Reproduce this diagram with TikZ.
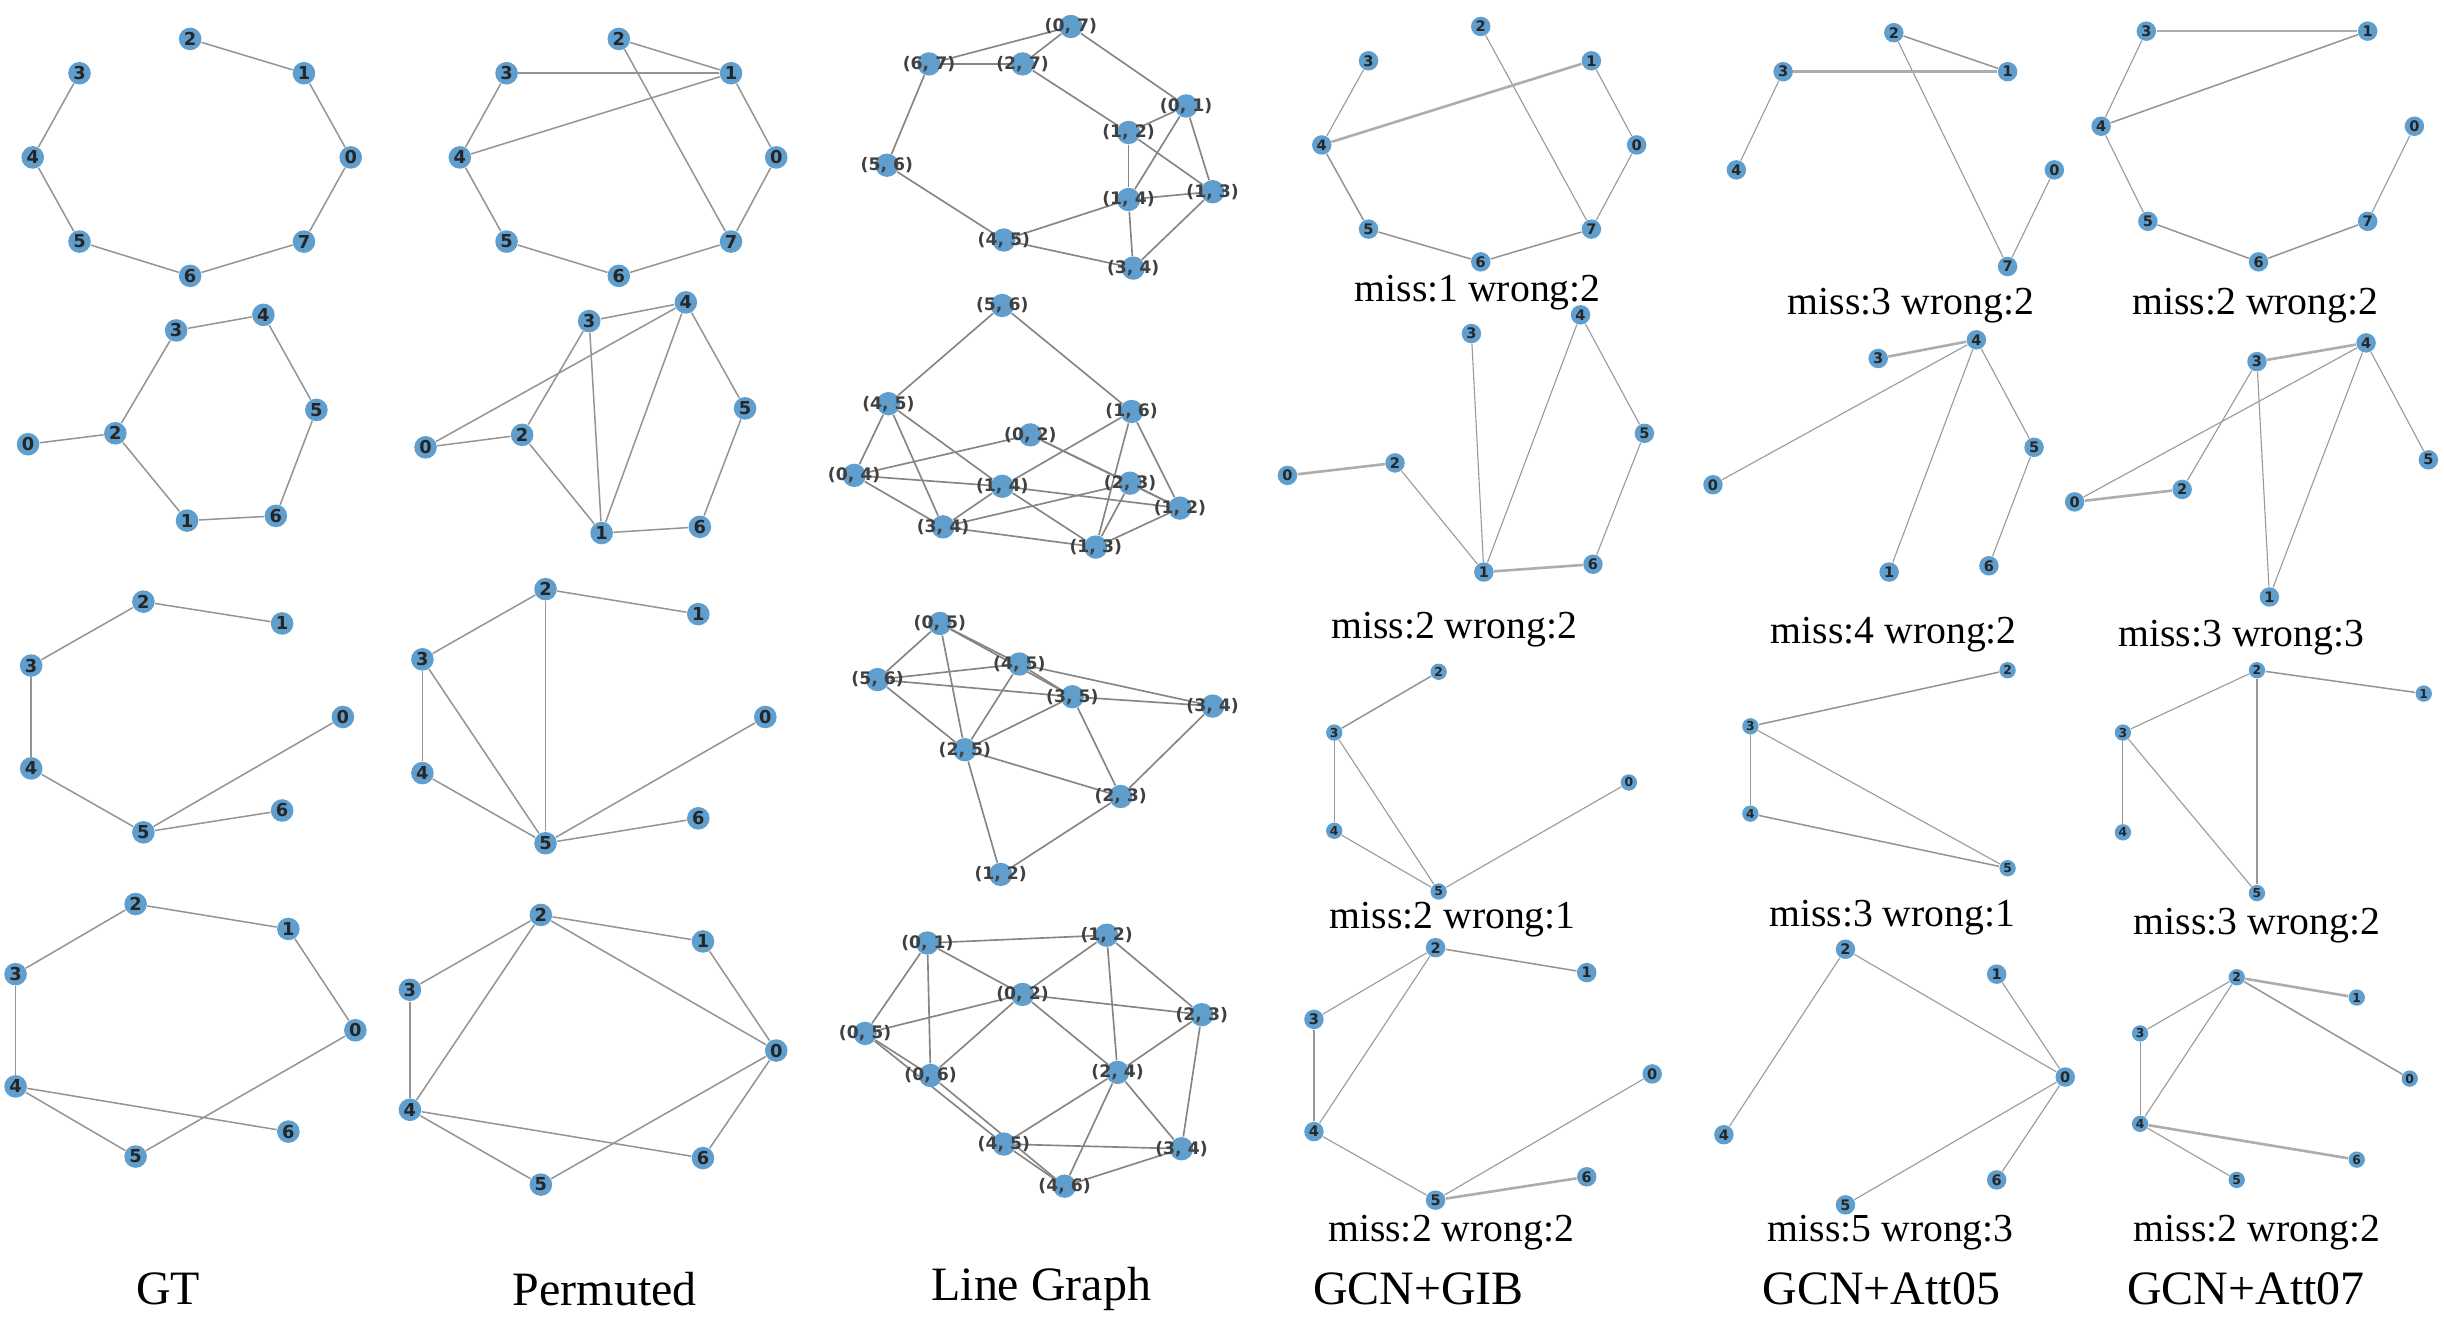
\documentclass[tikz,border=0pt]{standalone}
\usepackage{fontspec}
\setmainfont{Liberation Serif}
\newfontfamily\lblfont{DejaVu Sans}
\pgfdeclarelayer{bg}
\pgfsetlayers{bg,main}
\definecolor{nb}{RGB}{95,158,205}
\tikzset{
 gA/.style={circle, fill=nb, inner sep=0pt, minimum size=0.29cm, font=\lblfont\bfseries\fontsize{6.5}{6.5}\selectfont, text=black!85},
 gB/.style={gA, minimum size=0.25cm, font=\lblfont\bfseries\fontsize{5.3}{5.3}\selectfont},
 gC/.style={gA, minimum size=0.21cm, font=\lblfont\bfseries\fontsize{4.5}{4.5}\selectfont},
 lg/.style={circle, fill=nb, inner sep=0pt, minimum size=0.3cm},
 lgt/.style={inner sep=0pt, font=\lblfont\bfseries\fontsize{6.3}{6.3}\selectfont, text=black!75},
 ed/.style={draw=black!42, line width=0.55pt},
 lge/.style={draw=black!48, line width=0.6pt},
 et/.style={draw=black!40, line width=0.4pt},
 ek/.style={draw=black!32, line width=0.95pt},
 ttl/.style={font=\fontsize{17.5}{19}\selectfont, inner sep=0pt},
 mss/.style={font=\fontsize{14.5}{16}\selectfont, inner sep=0pt},
}
\begin{document}
\begin{tikzpicture}[x=0.02cm, y=-0.02cm]
\useasboundingbox (0,0) rectangle (1568,847);
\begin{pgfonlayer}{bg}
\fill[white] (0,0) rectangle (1568,847);
\end{pgfonlayer}

% ================= ROW 1 =================
% GT
\node[gA] (a1n0) at (225,101) {0};
\node[gA] (a1n1) at (195,47) {1};
\node[gA] (a1n2) at (122,25) {2};
\node[gA] (a1n3) at (51,47) {3};
\node[gA] (a1n4) at (21,101) {4};
\node[gA] (a1n5) at (51,155) {5};
\node[gA] (a1n6) at (122,177) {6};
\node[gA] (a1n7) at (195,155) {7};
% Permuted
\node[gA] (b1n0) at (498,101) {0};
\node[gA] (b1n1) at (469,47) {1};
\node[gA] (b1n2) at (397,25) {2};
\node[gA] (b1n3) at (325,47) {3};
\node[gA] (b1n4) at (295,101) {4};
\node[gA] (b1n5) at (325,155) {5};
\node[gA] (b1n6) at (397,177) {6};
\node[gA] (b1n7) at (469,155) {7};
% Line graph
\node[lg, label={[lgt]center:{(0, 7)}}] (c1n07) at (687,17) {};
\node[lg, label={[lgt]center:{(6, 7)}}] (c1n67) at (596,41) {};
\node[lg, label={[lgt]center:{(2, 7)}}] (c1n27) at (656,41) {};
\node[lg, label={[lgt]center:{(0, 1)}}] (c1n01) at (761,68) {};
\node[lg, label={[lgt]center:{(1, 2)}}] (c1n12) at (724,85) {};
\node[lg, label={[lgt]center:{(5, 6)}}] (c1n56) at (569,106) {};
\node[lg, label={[lgt]center:{(1, 4)}}] (c1n14) at (724,128) {};
\node[lg, label={[lgt]center:{(1, 3)}}] (c1n13) at (778,123) {};
\node[lg, label={[lgt]center:{(4, 5)}}] (c1n45) at (644,154) {};
\node[lg, label={[lgt]center:{(3, 4)}}] (c1n34) at (727,172) {};
% GIB
\node[gB] (d1n0) at (1050,93) {0};
\node[gB] (d1n1) at (1021,39) {1};
\node[gB] (d1n2) at (950,17) {2};
\node[gB] (d1n3) at (878,39) {3};
\node[gB] (d1n4) at (848,93) {4};
\node[gB] (d1n5) at (878,147) {5};
\node[gB] (d1n6) at (950,168) {6};
\node[gB] (d1n7) at (1021,147) {7};
\node[mss] (d1l) at (948,188) {miss:1 wrong:2};
% Att05
\node[gB] (e1n2) at (1215,21) {2};
\node[gB] (e1n1) at (1288,46) {1};
\node[gB] (e1n3) at (1144,46) {3};
\node[gB] (e1n4) at (1114,109) {4};
\node[gB] (e1n0) at (1318,109) {0};
\node[gB] (e1n7) at (1288,171) {7};
\node[mss] (e1l) at (1226,196) {miss:3 wrong:2};
% Att07
\node[gB] (f1n3) at (1377,20) {3};
\node[gB] (f1n1) at (1519,20) {1};
\node[gB] (f1n4) at (1348,81) {4};
\node[gB] (f1n0) at (1549,81) {0};
\node[gB] (f1n5) at (1378,142) {5};
\node[gB] (f1n7) at (1519,142) {7};
\node[gB] (f1n6) at (1449,168) {6};
\node[mss] (f1l) at (1447,196) {miss:2 wrong:2};

% ================= ROW 2 =================
\node[gA] (a2n3) at (113,212) {3};
\node[gA] (a2n4) at (169,202) {4};
\node[gA] (a2n0) at (18,285) {0};
\node[gA] (a2n2) at (74,278) {2};
\node[gA] (a2n5) at (203,263) {5};
\node[gA] (a2n1) at (120,334) {1};
\node[gA] (a2n6) at (177,331) {6};
\node[gA] (b2n4) at (440,194) {4};
\node[gA] (b2n3) at (378,206) {3};
\node[gA] (b2n0) at (273,287) {0};
\node[gA] (b2n2) at (335,279) {2};
\node[gA] (b2n5) at (478,262) {5};
\node[gA] (b2n1) at (386,342) {1};
\node[gA] (b2n6) at (449,338) {6};
\node[lg, label={[lgt]center:{(5, 6)}}] (c2n56) at (643,196) {};
\node[lg, label={[lgt]center:{(4, 5)}}] (c2n45) at (570,259) {};
\node[lg, label={[lgt]center:{(1, 6)}}] (c2n16) at (726,264) {};
\node[lg, label={[lgt]center:{(0, 2)}}] (c2n02) at (661,279) {};
\node[lg, label={[lgt]center:{(0, 4)}}] (c2n04) at (548,305) {};
\node[lg, label={[lgt]center:{(1, 4)}}] (c2n14) at (643,312) {};
\node[lg, label={[lgt]center:{(2, 3)}}] (c2n23) at (725,310) {};
\node[lg, label={[lgt]center:{(1, 2)}}] (c2n12) at (757,326) {};
\node[lg, label={[lgt]center:{(3, 4)}}] (c2n34) at (605,338) {};
\node[lg, label={[lgt]center:{(1, 3)}}] (c2n13) at (703,351) {};
\node[gB] (d2n3) at (944,214) {3};
\node[gB] (d2n4) at (1014,202) {4};
\node[gB] (d2n0) at (826,305) {0};
\node[gB] (d2n2) at (895,297) {2};
\node[gB] (d2n5) at (1055,278) {5};
\node[gB] (d2n1) at (952,367) {1};
\node[gB] (d2n6) at (1022,362) {6};
\node[mss] (d2l) at (933,404) {miss:2 wrong:2};
\node[gB] (e2n3) at (1205,230) {3};
\node[gB] (e2n4) at (1268,218) {4};
\node[gB] (e2n0) at (1099,311) {0};
\node[gB] (e2n5) at (1305,287) {5};
\node[gB] (e2n1) at (1212,367) {1};
\node[gB] (e2n6) at (1276,363) {6};
\node[mss] (e2l) at (1215,407) {miss:4 wrong:2};
\node[gB] (f2n3) at (1448,232) {3};
\node[gB] (f2n4) at (1518,220) {4};
\node[gB] (f2n0) at (1331,322) {0};
\node[gB] (f2n2) at (1400,314) {2};
\node[gB] (f2n5) at (1558,295) {5};
\node[gB] (f2n1) at (1456,383) {1};
\node[mss] (f2l) at (1438,409) {miss:3 wrong:3};

% ================= ROW 3 =================
\node[gA] (a3n2) at (92,386) {2};
\node[gA] (a3n1) at (181,400) {1};
\node[gA] (a3n3) at (20,427) {3};
\node[gA] (a3n0) at (220,460) {0};
\node[gA] (a3n4) at (20,493) {4};
\node[gA] (a3n6) at (181,520) {6};
\node[gA] (a3n5) at (92,534) {5};
\node[gA] (b3n2) at (350,378) {2};
\node[gA] (b3n1) at (448,394) {1};
\node[gA] (b3n3) at (271,423) {3};
\node[gA] (b3n0) at (491,460) {0};
\node[gA] (b3n4) at (271,496) {4};
\node[gA] (b3n6) at (448,525) {6};
\node[gA] (b3n5) at (350,541) {5};
\node[lg, label={[lgt]center:{(0, 5)}}] (c3n05) at (603,400) {};
\node[lg, label={[lgt]center:{(4, 5)}}] (c3n45) at (654,426) {};
\node[lg, label={[lgt]center:{(5, 6)}}] (c3n56) at (563,436) {};
\node[lg, label={[lgt]center:{(3, 5)}}] (c3n35) at (688,447) {};
\node[lg, label={[lgt]center:{(3, 4)}}] (c3n34) at (778,453) {};
\node[lg, label={[lgt]center:{(2, 5)}}] (c3n25) at (619,481) {};
\node[lg, label={[lgt]center:{(2, 3)}}] (c3n23) at (719,511) {};
\node[lg, label={[lgt]center:{(1, 2)}}] (c3n12) at (642,561) {};
\node[gC] (d3n2) at (923,431) {2};
\node[gC] (d3n3) at (856,470) {3};
\node[gC] (d3n0) at (1045,502) {0};
\node[gC] (d3n4) at (856,533) {4};
\node[gC] (d3n5) at (923,572) {5};
\node[mss] (d3l) at (932,590) {miss:2 wrong:1};
\node[gC] (e3n2) at (1288,430) {2};
\node[gC] (e3n3) at (1123,466) {3};
\node[gC] (e3n4) at (1123,522) {4};
\node[gC] (e3n5) at (1288,557) {5};
\node[mss] (e3l) at (1214,589) {miss:3 wrong:1};
\node[gC] (f3n2) at (1448,430) {2};
\node[gC] (f3n1) at (1555,445) {1};
\node[gC] (f3n3) at (1362,470) {3};
\node[gC] (f3n4) at (1362,534) {4};
\node[gC] (f3n5) at (1448,573) {5};
\node[mss] (f3l) at (1448,594) {miss:3 wrong:2};

% ================= ROW 4 =================
\node[gA] (a4n2) at (87,580) {2};
\node[gA] (a4n1) at (185,596) {1};
\node[gA] (a4n3) at (10,625) {3};
\node[gA] (a4n0) at (228,661) {0};
\node[gA] (a4n4) at (10,697) {4};
\node[gA] (a4n6) at (185,726) {6};
\node[gA] (a4n5) at (87,742) {5};
\node[gA] (b4n2) at (347,587) {2};
\node[gA] (b4n1) at (451,604) {1};
\node[gA] (b4n3) at (263,635) {3};
\node[gA] (b4n0) at (498,674) {0};
\node[gA] (b4n4) at (263,712) {4};
\node[gA] (b4n6) at (451,743) {6};
\node[gA] (b4n5) at (347,760) {5};
\node[lg, label={[lgt]center:{(0, 1)}}] (c4n01) at (595,605) {};
\node[lg, label={[lgt]center:{(1, 2)}}] (c4n12) at (710,600) {};
\node[lg, label={[lgt]center:{(0, 2)}}] (c4n02) at (656,638) {};
\node[lg, label={[lgt]center:{(2, 3)}}] (c4n23) at (771,651) {};
\node[lg, label={[lgt]center:{(0, 5)}}] (c4n05) at (555,663) {};
\node[lg, label={[lgt]center:{(0, 6)}}] (c4n06) at (597,690) {};
\node[lg, label={[lgt]center:{(2, 4)}}] (c4n24) at (717,688) {};
\node[lg, label={[lgt]center:{(4, 5)}}] (c4n45) at (644,734) {};
\node[lg, label={[lgt]center:{(3, 4)}}] (c4n34) at (758,737) {};
\node[lg, label={[lgt]center:{(4, 6)}}] (c4n46) at (683,761) {};
\node[gB] (d4n2) at (921,608) {2};
\node[gB] (d4n1) at (1018,624) {1};
\node[gB] (d4n3) at (843,654) {3};
\node[gB] (d4n0) at (1060,689) {0};
\node[gB] (d4n4) at (843,726) {4};
\node[gB] (d4n6) at (1018,755) {6};
\node[gB] (d4n5) at (921,770) {5};
\node[mss] (d4l) at (931,791) {miss:2 wrong:2};
\node[gB] (e4n2) at (1184,609) {2};
\node[gB] (e4n1) at (1281,625) {1};
\node[gB] (e4n0) at (1325,691) {0};
\node[gB] (e4n4) at (1106,728) {4};
\node[gB] (e4n6) at (1281,757) {6};
\node[gB] (e4n5) at (1184,773) {5};
\node[mss] (e4l) at (1213,791) {miss:5 wrong:3};
\node[gC] (f4n2) at (1435,627) {2};
\node[gC] (f4n1) at (1512,640) {1};
\node[gC] (f4n3) at (1373,663) {3};
\node[gC] (f4n0) at (1546,692) {0};
\node[gC] (f4n4) at (1373,721) {4};
\node[gC] (f4n6) at (1512,744) {6};
\node[gC] (f4n5) at (1435,757) {5};
\node[mss] (f4l) at (1448,791) {miss:2 wrong:2};

% ================= TITLES =================
\node[ttl] (t1) at (108,827) {GT};
\node[ttl] (t2) at (388,827) {Permuted};
\node[ttl] (t3) at (668,827) {Line Graph};
\node[ttl] (t4) at (910,827) {GCN+GIB};
\node[ttl] (t5) at (1207,827) {GCN+Att05};
\node[ttl] (t6) at (1441,827) {GCN+Att07};

% ================= EDGES =================
\begin{pgfonlayer}{bg}
% row 1
\foreach \u/\v in {2/1,1/0,0/7,7/6,6/5,5/4,4/3} \draw[ed] (a1n\u) -- (a1n\v);
\foreach \u/\v in {2/1,3/1,4/1,2/7,1/0,0/7,7/6,6/5,5/4,4/3} \draw[ed] (b1n\u) -- (b1n\v);
\foreach \u/\v in {07/67,07/27,07/01,67/27,67/56,27/12,01/12,01/14,01/13,12/14,12/13,14/13,14/45,14/34,13/34,56/45,45/34} \draw[lge] (c1n\u) -- (c1n\v);
\foreach \u/\v in {3/4,2/7,1/0,0/7} \draw[et] (d1n\u) -- (d1n\v);
\foreach \u/\v in {7/6,6/5,5/4} \draw[ed] (d1n\u) -- (d1n\v);
\draw[ek] (d1n4) -- (d1n1);
\foreach \u/\v in {3/4,2/7,7/0} \draw[et] (e1n\u) -- (e1n\v);
\draw[ed] (e1n2) -- (e1n1);
\draw[ek] (e1n3) -- (e1n1);
\foreach \u/\v in {3/4,4/5,7/0} \draw[et] (f1n\u) -- (f1n\v);
\foreach \u/\v in {5/6,6/7} \draw[ed] (f1n\u) -- (f1n\v);
\draw[ed] (f1n4) -- (f1n1);
\draw[ek] (f1n3) -- (f1n1);
% row 2
\foreach \u/\v in {3/4,3/2,0/2,2/1,1/6,6/5,5/4} \draw[ed] (a2n\u) -- (a2n\v);
\foreach \u/\v in {3/4,0/4,0/2,2/3,3/1,4/1,4/5,2/1,1/6,6/5} \draw[ed] (b2n\u) -- (b2n\v);
\foreach \u/\v in {56/45,56/16,45/04,45/34,45/14,02/04,02/23,02/12,16/14,16/13,16/12,04/14,04/34,14/12,14/34,14/13,23/34,23/13,23/12,34/13,13/12} \draw[lge] (c2n\u) -- (c2n\v);
\foreach \u/\v in {2/1,3/1,4/1,4/5,5/6} \draw[et] (d2n\u) -- (d2n\v);
\foreach \u/\v in {0/2,1/6} \draw[ek] (d2n\u) -- (d2n\v);
\foreach \u/\v in {0/4,4/1,4/5,5/6} \draw[et] (e2n\u) -- (e2n\v);
\draw[ek] (e2n3) -- (e2n4);
\foreach \u/\v in {0/4,2/3,3/1,4/1,4/5} \draw[et] (f2n\u) -- (f2n\v);
\foreach \u/\v in {3/4,0/2} \draw[ek] (f2n\u) -- (f2n\v);
% row 3
\foreach \u/\v in {2/1,2/3,3/4,4/5,5/0,5/6} \draw[ed] (a3n\u) -- (a3n\v);
\foreach \u/\v in {2/1,2/3,2/5,3/4,3/5,4/5,5/0,5/6} \draw[ed] (b3n\u) -- (b3n\v);
\foreach \u/\v in {05/56,05/45,05/35,05/25,45/56,45/35,45/25,45/34,56/35,56/25,35/34,35/25,35/23,34/23,25/23,25/12,23/12} \draw[lge] (c3n\u) -- (c3n\v);
\foreach \u/\v in {3/4,3/5,4/5,5/0} \draw[et] (d3n\u) -- (d3n\v);
\draw[ed] (d3n2) -- (d3n3);
\foreach \u/\v in {3/4,3/5} \draw[et] (e3n\u) -- (e3n\v);
\foreach \u/\v in {3/2,4/5} \draw[ed] (e3n\u) -- (e3n\v);
\foreach \u/\v in {2/3,2/5,3/4,3/5} \draw[et] (f3n\u) -- (f3n\v);
\draw[ed] (f3n2) -- (f3n1);
% row 4
\foreach \u/\v in {2/1,1/0,2/3,3/4,4/5,4/6,5/0} \draw[ed] (a4n\u) -- (a4n\v);
\foreach \u/\v in {2/1,1/0,2/0,2/3,2/4,3/4,4/6,4/5,5/0,6/0} \draw[ed] (b4n\u) -- (b4n\v);
\foreach \u/\v in {01/12,01/02,01/05,01/06,12/02,12/23,12/24,02/05,02/06,02/23,02/24,05/06,05/45,06/46,23/24,23/34,24/45,24/34,24/46,45/34,45/46,34/46} \draw[lge] (c4n\u) -- (c4n\v);
\foreach \u/\v in {2/3,2/4,3/4,4/5,5/0} \draw[et] (d4n\u) -- (d4n\v);
\draw[ed] (d4n2) -- (d4n1);
\draw[ek] (d4n5) -- (d4n6);
\foreach \u/\v in {2/4,2/0,1/0,0/5,0/6} \draw[et] (e4n\u) -- (e4n\v);
\foreach \u/\v in {2/3,2/4,3/4,4/5} \draw[et] (f4n\u) -- (f4n\v);
\draw[ed] (f4n2) -- (f4n0);
\foreach \u/\v in {2/1,4/6} \draw[ek] (f4n\u) -- (f4n\v);
\end{pgfonlayer}
\end{tikzpicture}
\end{document}
